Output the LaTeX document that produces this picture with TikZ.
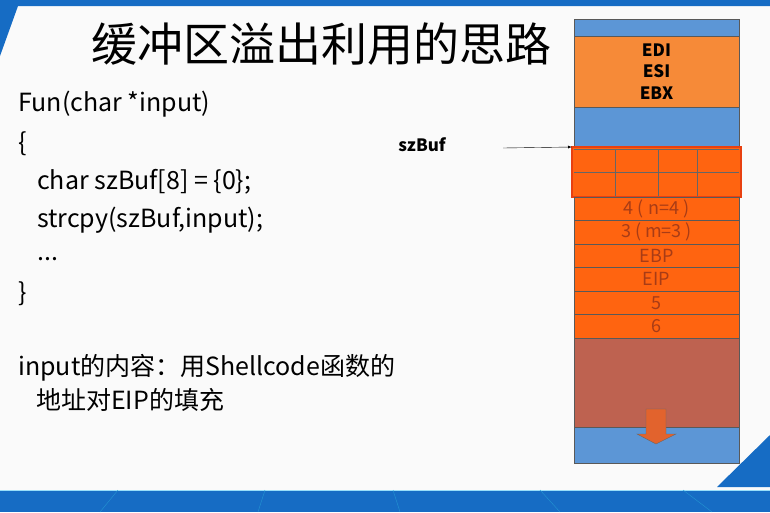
\documentclass[tikz,border=0pt]{standalone}
\usepackage{fontspec}
\setmainfont{Noto Sans CJK SC}
\usetikzlibrary{shapes,arrows,positioning}

\definecolor{slideblue}{RGB}{22,108,196}
\definecolor{stackblue}{RGB}{92,150,214}
\definecolor{regorange}{RGB}{246,138,56}
\definecolor{bufred}{RGB}{255,100,16}
\definecolor{bufedge}{RGB}{232,64,16}
\definecolor{heapbrown}{RGB}{190,98,80}
\definecolor{rowtext}{RGB}{168,60,22}

\tikzset{
	cell/.style={draw=black!65, anchor=north west, minimum width=165pt, inner sep=0pt, outer sep=0pt},
	code/.style={anchor=west, font=\fontsize{25}{28}\selectfont, inner sep=0pt},
	rowlabel/.style={font=\fontsize{18}{20}\selectfont, text=rowtext}
}

\begin{document}
\begin{tikzpicture}[x=1pt,y=-1pt,>=latex]
		\useasboundingbox (0,0) rectangle (770,512);
		\fill[gray!4] (0,0) rectangle (770,512);
		% slide frame
		\fill[slideblue] (0,0) -- (770,0) -- (770,6) -- (18,6) -- (0,56) -- cycle;
		\fill[slideblue] (0,490) rectangle (770,512);
		\draw[cyan!40!white,thick] (0,490) -- (770,490);
		\foreach \a/\b in {118/100,265/258,393/400,540/560,683/712}
			\draw[cyan!60!slideblue] (\a,490) -- (\b,512);
		\fill[slideblue] (717,487) -- (770,487) -- (770,435) -- cycle;

		\node[anchor=west, font=\fontsize{46}{50}\selectfont] (title) at (88,44) {缓冲区溢出利用的思路};

		% code
		\node[code] (l1) at (18,104) {Fun(char *input)};
		\node[code] (l2) at (18,144) {\{};
		\node[code] (l3) at (37,182) {char szBuf[8] = \{0\};};
		\node[code] (l4) at (37,220) {strcpy(szBuf,input);};
		\node[code] (l5) at (37,259) {...};
		\node[code] (l6) at (18,294) {\}};
		\node[code] (n1) at (18,368) {input的内容：用Shellcode函数的};
		\node[code] (n2) at (36,400) {地址对EIP的填充};

		% stack
		\node[cell, fill=stackblue, minimum height=17pt] (top) at (574,19) {};
		\node[cell, fill=regorange, minimum height=71pt] (regs) at (574,36) {};
		\node[font=\bfseries\fontsize{17}{21.5}\selectfont, align=center] at (regs) {EDI\\ESI\\EBX};
		\node[cell, fill=stackblue, minimum height=40pt] (gap) at (574,107) {};
		\node[cell, fill=bufred, draw=bufedge, line width=1.5pt, minimum width=169pt, minimum height=50pt] (buf) at (572,147) {};
		\foreach \x in {615,658,697}
			\draw[black!60] (\x,149) -- (\x,196);
		\draw[black!60] (574,172) -- (739,172);
		\draw[black!60] (574,149) -- (739,149);
		\foreach \t [count=\i] in {{4 ( n=4 )},{3 ( m=3 )},EBP,EIP,5,6}
			\node[cell, rowlabel, fill=bufred, minimum height=23.5pt] (row\i) at (574,{197+(\i-1)*23.5}) {\t};
		\node[cell, fill=heapbrown, minimum height=89pt] (heap) at (574,338) {};
		\node[cell, fill=stackblue, minimum height=36pt] (bottom) at (574,427) {};
		\draw[black!60, fill=bufred!55!heapbrown] (646,409) -- (666,409) -- (666,434) -- (676,434) -- (656,444) -- (637,434) -- (646,434) -- cycle;

		\node[font=\bfseries\fontsize{17}{19}\selectfont] (szbuf) at (422,145) {szBuf};
		\coordinate (bufptr) at (503,148);
		\draw[->] (bufptr) -- (buf.north west);
	\end{tikzpicture}
\end{document}
